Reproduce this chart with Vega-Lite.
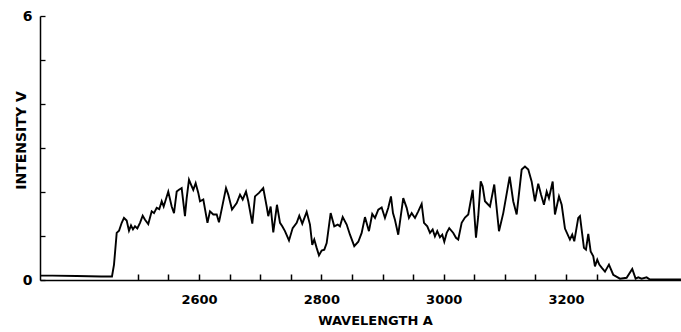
{
  "$schema": "https://vega.github.io/schema/vega-lite/v6.json",
  "width": 641,
  "height": 264,
  "autosize": "none",
  "padding": {"left": 40, "top": 16, "right": 0, "bottom": 52},
  "background": "white",
  "config": {"view": {"stroke": null}},
  "data": {"values": [
    {"w": 2340.0, "v": 0.1}, {"w": 2360.0, "v": 0.1}, {"w": 2400.0, "v": 0.09}, {"w": 2440.0, "v": 0.08}, {"w": 2457.7, "v": 0.08},
    {"w": 2461.0, "v": 0.35}, {"w": 2465.4, "v": 1.07}, {"w": 2469.2, "v": 1.12}, {"w": 2473.6, "v": 1.3}, {"w": 2477.3, "v": 1.41},
    {"w": 2481.7, "v": 1.35}, {"w": 2485.5, "v": 1.12}, {"w": 2488.8, "v": 1.24}, {"w": 2492.0, "v": 1.15}, {"w": 2495.3, "v": 1.22},
    {"w": 2499.1, "v": 1.17}, {"w": 2503.5, "v": 1.3}, {"w": 2507.9, "v": 1.46}, {"w": 2511.7, "v": 1.37}, {"w": 2517.0, "v": 1.27},
    {"w": 2522.6, "v": 1.56}, {"w": 2526.4, "v": 1.52}, {"w": 2530.8, "v": 1.64}, {"w": 2535.0, "v": 1.61}, {"w": 2539.0, "v": 1.79},
    {"w": 2542.2, "v": 1.67}, {"w": 2549.7, "v": 2.01}, {"w": 2555.3, "v": 1.67}, {"w": 2559.1, "v": 1.52}, {"w": 2563.5, "v": 2.01},
    {"w": 2567.2, "v": 2.05}, {"w": 2571.6, "v": 2.09}, {"w": 2577.0, "v": 1.45}, {"w": 2579.8, "v": 1.86}, {"w": 2583.6, "v": 2.28},
    {"w": 2586.9, "v": 2.17}, {"w": 2590.6, "v": 2.05}, {"w": 2594.5, "v": 2.2}, {"w": 2598.8, "v": 1.98}, {"w": 2601.6, "v": 1.79},
    {"w": 2607.0, "v": 1.83}, {"w": 2613.8, "v": 1.3}, {"w": 2617.9, "v": 1.56}, {"w": 2623.3, "v": 1.49}, {"w": 2628.9, "v": 1.49},
    {"w": 2632.6, "v": 1.31}, {"w": 2637.5, "v": 1.64}, {"w": 2644.1, "v": 2.09}, {"w": 2647.8, "v": 1.94}, {"w": 2653.9, "v": 1.6},
    {"w": 2661.6, "v": 1.75}, {"w": 2667.0, "v": 1.94}, {"w": 2671.4, "v": 1.83}, {"w": 2676.8, "v": 2.01}, {"w": 2680.5, "v": 1.79},
    {"w": 2687.1, "v": 1.28}, {"w": 2691.5, "v": 1.9}, {"w": 2698.0, "v": 1.98}, {"w": 2705.0, "v": 2.09}, {"w": 2710.6, "v": 1.67},
    {"w": 2713.2, "v": 1.45}, {"w": 2717.1, "v": 1.67}, {"w": 2721.4, "v": 1.08}, {"w": 2727.4, "v": 1.71}, {"w": 2732.4, "v": 1.3},
    {"w": 2736.1, "v": 1.22}, {"w": 2740.5, "v": 1.11}, {"w": 2747.1, "v": 0.9}, {"w": 2753.1, "v": 1.18}, {"w": 2759.7, "v": 1.3},
    {"w": 2763.9, "v": 1.46}, {"w": 2768.8, "v": 1.28}, {"w": 2776.0, "v": 1.55}, {"w": 2781.4, "v": 1.26}, {"w": 2785.1, "v": 0.8},
    {"w": 2788.4, "v": 0.92}, {"w": 2792.3, "v": 0.73}, {"w": 2796.1, "v": 0.56}, {"w": 2800.5, "v": 0.67}, {"w": 2804.8, "v": 0.69},
    {"w": 2808.7, "v": 0.84}, {"w": 2815.2, "v": 1.52}, {"w": 2821.1, "v": 1.22}, {"w": 2826.7, "v": 1.26}, {"w": 2830.4, "v": 1.22},
    {"w": 2834.9, "v": 1.43}, {"w": 2841.4, "v": 1.26}, {"w": 2846.8, "v": 1.03}, {"w": 2853.8, "v": 0.77}, {"w": 2860.4, "v": 0.87},
    {"w": 2865.9, "v": 1.07}, {"w": 2871.3, "v": 1.43}, {"w": 2877.8, "v": 1.11}, {"w": 2883.2, "v": 1.5}, {"w": 2887.7, "v": 1.41},
    {"w": 2893.1, "v": 1.6}, {"w": 2898.6, "v": 1.65}, {"w": 2904.0, "v": 1.41}, {"w": 2909.4, "v": 1.64}, {"w": 2913.8, "v": 1.9},
    {"w": 2917.1, "v": 1.52}, {"w": 2920.3, "v": 1.37}, {"w": 2925.7, "v": 1.03}, {"w": 2930.2, "v": 1.49}, {"w": 2933.9, "v": 1.86},
    {"w": 2939.5, "v": 1.64}, {"w": 2943.2, "v": 1.41}, {"w": 2947.7, "v": 1.52}, {"w": 2953.1, "v": 1.41}, {"w": 2958.4, "v": 1.56},
    {"w": 2964.0, "v": 1.73}, {"w": 2967.8, "v": 1.3}, {"w": 2973.2, "v": 1.22}, {"w": 2977.6, "v": 1.07}, {"w": 2982.0, "v": 1.15},
    {"w": 2985.7, "v": 0.99}, {"w": 2989.5, "v": 1.11}, {"w": 2993.9, "v": 0.97}, {"w": 2997.7, "v": 1.03}, {"w": 3001.0, "v": 0.87},
    {"w": 3004.9, "v": 1.07}, {"w": 3009.1, "v": 1.18}, {"w": 3015.7, "v": 1.07}, {"w": 3020.1, "v": 0.96}, {"w": 3023.8, "v": 0.92},
    {"w": 3029.4, "v": 1.3}, {"w": 3034.8, "v": 1.42}, {"w": 3040.2, "v": 1.49}, {"w": 3047.4, "v": 2.05}, {"w": 3052.8, "v": 0.96},
    {"w": 3056.5, "v": 1.45}, {"w": 3060.5, "v": 2.24}, {"w": 3063.7, "v": 2.13}, {"w": 3067.5, "v": 1.79}, {"w": 3075.7, "v": 1.67},
    {"w": 3082.7, "v": 2.17}, {"w": 3090.4, "v": 1.11}, {"w": 3097.4, "v": 1.52}, {"w": 3107.9, "v": 2.35}, {"w": 3113.7, "v": 1.79},
    {"w": 3119.3, "v": 1.49}, {"w": 3127.5, "v": 2.51}, {"w": 3132.9, "v": 2.58}, {"w": 3138.3, "v": 2.51}, {"w": 3143.8, "v": 2.24},
    {"w": 3149.2, "v": 1.79}, {"w": 3154.6, "v": 2.19}, {"w": 3159.0, "v": 1.95}, {"w": 3163.9, "v": 1.71}, {"w": 3168.4, "v": 2.01},
    {"w": 3172.1, "v": 1.86}, {"w": 3178.2, "v": 2.24}, {"w": 3181.9, "v": 1.49}, {"w": 3188.5, "v": 1.9}, {"w": 3192.9, "v": 1.71},
    {"w": 3198.3, "v": 1.17}, {"w": 3206.4, "v": 0.92}, {"w": 3210.2, "v": 1.03}, {"w": 3213.5, "v": 0.88}, {"w": 3220.0, "v": 1.41},
    {"w": 3222.8, "v": 1.45}, {"w": 3229.3, "v": 0.73}, {"w": 3232.6, "v": 0.69}, {"w": 3236.4, "v": 1.05}, {"w": 3240.3, "v": 0.65},
    {"w": 3244.6, "v": 0.54}, {"w": 3247.3, "v": 0.31}, {"w": 3251.1, "v": 0.46}, {"w": 3254.4, "v": 0.35}, {"w": 3258.3, "v": 0.28},
    {"w": 3263.7, "v": 0.19}, {"w": 3270.2, "v": 0.35}, {"w": 3277.2, "v": 0.12}, {"w": 3288.2, "v": 0.03}, {"w": 3299.1, "v": 0.05},
    {"w": 3308.3, "v": 0.25}, {"w": 3313.8, "v": 0.03}, {"w": 3318.1, "v": 0.06}, {"w": 3323.6, "v": 0.03}, {"w": 3331.8, "v": 0.06},
    {"w": 3337.2, "v": 0.01}, {"w": 3348.2, "v": 0.01}, {"w": 3387.9, "v": 0.01}
  ]},
  "mark": {"type": "line", "color": "black", "strokeWidth": 1.9, "clip": true},
  "encoding": {
    "x": {
      "field": "w", "type": "quantitative",
      "scale": {"domain": [2340, 3388], "nice": false, "zero": false},
      "axis": {
        "title": "WAVELENGTH A",
        "values": [2500, 2550, 2600, 2650, 2700, 2750, 2800, 2850, 2900, 2950, 3000, 3050, 3100, 3150, 3200, 3250],
        "labelExpr": "datum.value % 200 == 0 ? datum.label : ''",
        "format": "d",
        "grid": false,
        "ticks": true,
        "domainColor": "black", "domainWidth": 1.5,
        "tickColor": "black", "tickWidth": 1.5, "tickSize": -6, "tickOpacity": 1,
        "labelFont": "DejaVu Sans", "labelFontWeight": "bold", "labelFontSize": 13, "labelColor": "black",
        "labelPadding": 19,
        "titleFont": "DejaVu Sans", "titleFontWeight": "bold", "titleFontSize": 13, "titleColor": "black",
        "titleX": 335, "titleY": 44.5, "titleBaseline": "alphabetic", "titleAlign": "center"
      }
    },
    "y": {
      "field": "v", "type": "quantitative",
      "scale": {"domain": [0, 6], "nice": false},
      "axis": {
        "title": "INTENSITY V",
        "values": [0, 1, 2, 3, 4, 5, 6],
        "labelExpr": "datum.value == 0 || datum.value == 6 ? datum.label : ''",
        "grid": false,
        "ticks": true,
        "domainColor": "black", "domainWidth": 1.5,
        "tickColor": "black", "tickWidth": 1.3, "tickSize": -5,
        "labelFont": "DejaVu Sans", "labelFontWeight": "bold", "labelFontSize": 14, "labelColor": "black",
        "labelPadding": 13,
        "titleFont": "DejaVu Sans", "titleFontWeight": "bold", "titleFontSize": 14, "titleColor": "black",
        "titleX": -15, "titleY": 124, "titleBaseline": "alphabetic", "titleAlign": "center", "titleAngle": -90
      }
    }
  }
}
